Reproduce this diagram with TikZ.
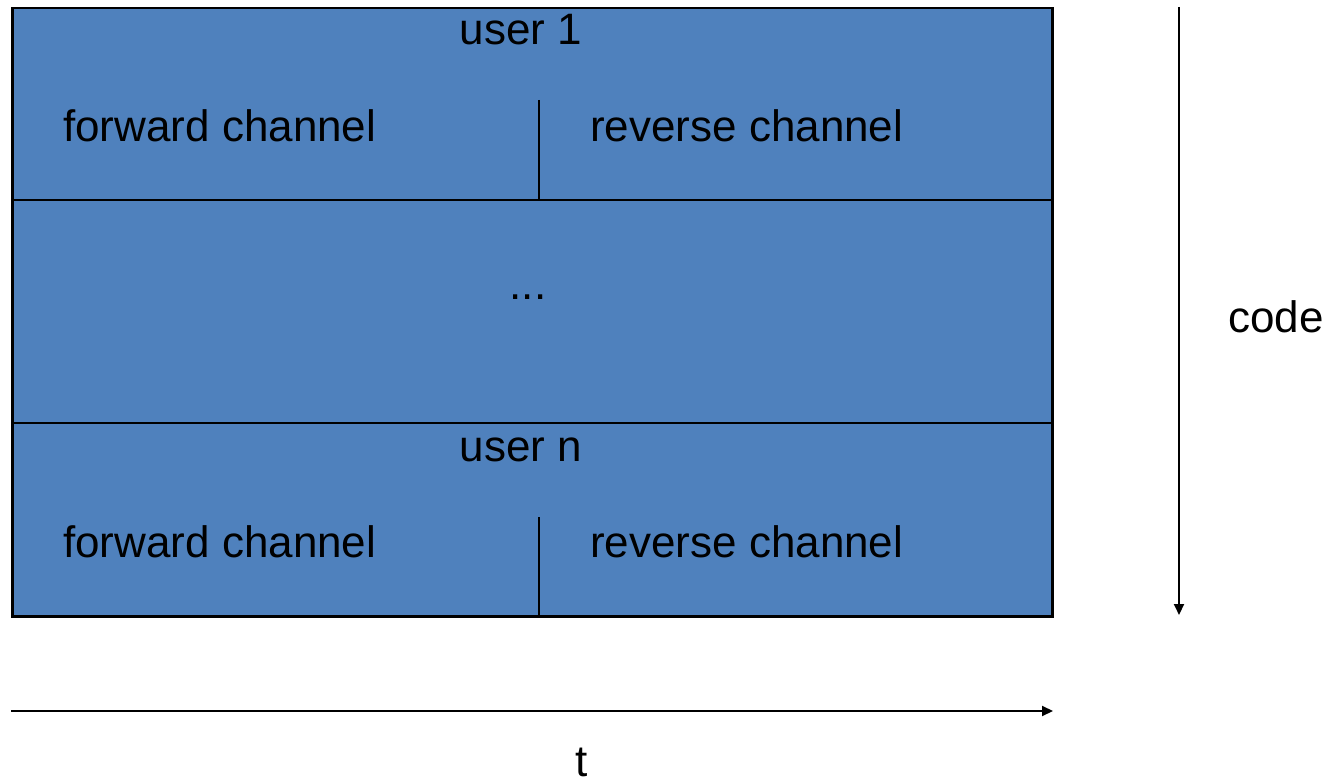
\documentclass[tikz,border=0pt]{standalone}
\usepackage{fontspec}
\setmainfont{Liberation Sans}
\usetikzlibrary{arrows.meta}
\definecolor{boxblue}{HTML}{4F81BD}
\begin{document}
\begin{tikzpicture}[x=1pt,y=-1pt,
  lbl/.style={anchor=base,inner sep=0pt,font=\fontsize{44}{52}\selectfont},
  band/.style={draw=black,line width=2.5pt,fill=boxblue},
  divider/.style={line width=2.5pt},
  axis/.style={line width=2pt,-{Triangle[length=11pt,width=10pt]}}]
\useasboundingbox (0,0) rectangle (1339,783);
\node[band,minimum width=1040pt,minimum height=192pt,anchor=north west,inner sep=0pt] (u1) at (11,7) {};
\node[band,minimum width=1040pt,minimum height=223pt,anchor=north west,inner sep=0pt] (mid) at (11,199) {};
\node[band,minimum width=1040pt,minimum height=193pt,anchor=north west,inner sep=0pt] (un) at (11,422) {};
\coordinate (d1t) at (539,100);
\coordinate (d2t) at (539,517);
\draw[divider] (d1t) -- (d1t |- u1.south);
\draw[divider] (d2t) -- (d2t |- un.south);
\node[lbl] (t1) at (521,45) {user 1};
\node[lbl,anchor=base west] (f1) at (63,142) {forward channel};
\node[lbl,anchor=base west] (r1) at (590,142) {reverse channel};
\node[lbl] (dots) at (528,300) {...};
\node[lbl] (tn) at (521,461) {user n};
\node[lbl,anchor=base west] (fn) at (63,557) {forward channel};
\node[lbl,anchor=base west] (rn) at (590,557) {reverse channel};
\coordinate (ct) at (1179,7);
\coordinate (cb) at (1179,615);
\draw[axis] (ct) -- (cb);
\node[lbl] (code) at (1276,333) {code};
\coordinate (tl) at (11,711);
\coordinate (tr) at (1053,711);
\draw[axis] (tl) -- (tr);
\node[lbl] (tlab) at (582,776) {t};
\end{tikzpicture}
\end{document}
